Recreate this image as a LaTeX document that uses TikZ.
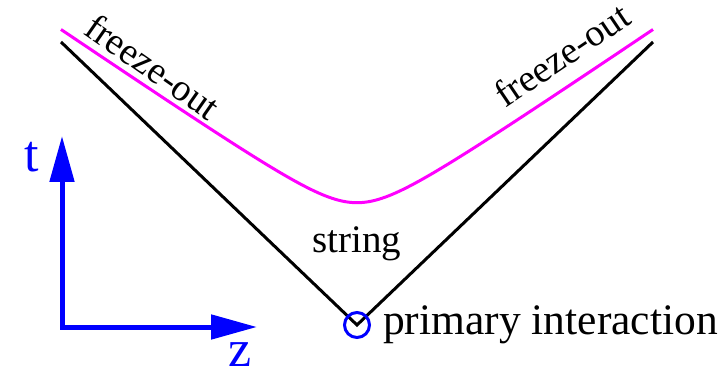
\documentclass[tikz,border=0pt]{standalone}
\usepackage{fontspec}
\setmainfont{Liberation Serif}
\usetikzlibrary{arrows.meta}
\definecolor{mag}{RGB}{255,0,255}
\definecolor{axblue}{RGB}{0,0,255}
\begin{document}
\begin{tikzpicture}[x=1pt,y=1pt,
  cone/.style={line width=3pt, black, line join=miter},
  freeze/.style={line width=3pt, mag},
  axis/.style={line width=5pt, axblue, line join=miter, {Triangle[length=46pt,width=24pt]}-{Triangle[length=46pt,width=24pt]}},
  lab/.style={inner sep=0pt, font=\fontsize{38}{38}\selectfont},
  axlab/.style={inner sep=0pt, text=axblue, font=\fontsize{52}{52}\selectfont}
]
\useasboundingbox (0,0) rectangle (728,370);
\coordinate (L) at (61,328);
\coordinate (A) at (357,45);
\coordinate (R) at (653,328);
\draw[cone] (L) -- (A) -- (R);
\draw[freeze] plot[domain=-296:296, samples=121, smooth] ({357+\x},{137+10*sqrt(9.18+(0.068*\x)^2)});
\node[circle, draw=axblue, line width=3pt, minimum size=25pt, inner sep=0pt] (pi) at (A) {};
\node[lab, font=\fontsize{43.5}{43.5}\selectfont, anchor=base west] (pil) at (383,36) {primary interaction};
\node[lab, font=\fontsize{39}{39}\selectfont, anchor=base west] (str) at (312,118) {string};
\node[lab, rotate=-35, anchor=base west] (fl) at (82,337) {freeze-out};
\node[lab, rotate=34, anchor=base west] (fr) at (505,261) {freeze-out};
\coordinate (O) at (62,43);
\coordinate (T) at (62,234);
\coordinate (Z) at (257,43);
\draw[axis] (T) -- (O) -- (Z);
\node[axlab, anchor=base] (tl) at (32,198) {t};
\node[axlab, anchor=base] (zl) at (240,4) {z};
\end{tikzpicture}
\end{document}
